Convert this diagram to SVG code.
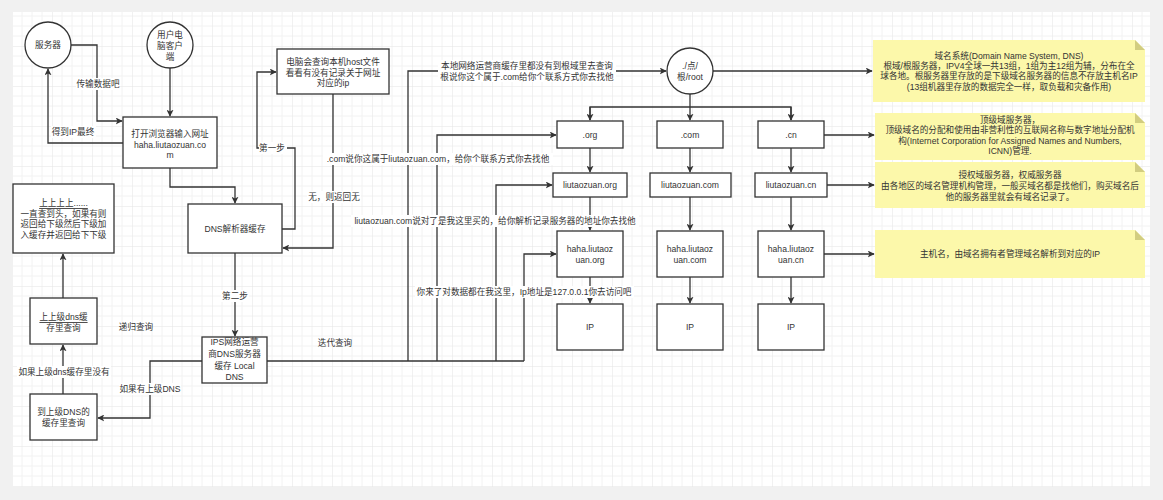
<svg xmlns="http://www.w3.org/2000/svg" width="1163" height="500" viewBox="0 0 1163 500">
<style>
.t{font-family:"Liberation Sans","Noto Sans CJK SC",sans-serif;font-size:8.6px;fill:#333;text-anchor:middle;dominant-baseline:central}
.b{fill:#fff;stroke:#333;stroke-width:1.3}
.c{fill:none;stroke:#333;stroke-width:1.3}
.n{fill:#fcf8aa;stroke:none}
.f{fill:#d2cd80}
.lb{fill:#fff}
.u{text-decoration:underline}
</style>
<defs>
<pattern id="g" x="12" y="6" width="40" height="40" patternUnits="userSpaceOnUse">
<path d="M10 0V40M20 0V40M30 0V40M0 10H40M0 20H40M0 30H40" stroke="#f2f2f2" stroke-width="1" fill="none"/>
<path d="M0 0V40M0 0H40" stroke="#e4e4e4" stroke-width="1" fill="none"/>
</pattern>
<marker id="a" viewBox="0 0 10 10" refX="9" refY="5" markerWidth="7" markerHeight="7" orient="auto" markerUnits="userSpaceOnUse">
<path d="M0 0L10 5L0 10L2.5 5Z" fill="#333"/>
</marker>
</defs>
<rect x="0" y="0" width="1163" height="500" fill="#f1f1f1"/>
<rect x="13" y="12" width="1137" height="475" fill="#fff"/>
<rect x="13" y="12" width="1137" height="475" fill="url(#g)"/>

<g id="connectors">
<path class="c" d="M71 45H97V121H122" marker-end="url(#a)"/>
<path class="c" d="M123 143H48V69" marker-end="url(#a)"/>
<path class="c" d="M170 68V116" marker-end="url(#a)"/>
<path class="c" d="M170 168V187H235V203" marker-end="url(#a)"/>
<path class="c" d="M282 229H295V148H257V72H276" marker-end="url(#a)"/>
<path class="c" d="M333 94V248H283" marker-end="url(#a)"/>
<path class="c" d="M235 253V336" marker-end="url(#a)"/>
<path class="c" d="M202 361H150V418H98" marker-end="url(#a)"/>
<path class="c" d="M63 394V345" marker-end="url(#a)"/>
<path class="c" d="M63 298V254" marker-end="url(#a)"/>
<path class="c" d="M267 361H524"/>
<path class="c" d="M408 361V71H666" marker-end="url(#a)"/>
<path class="c" d="M437 361V135H556" marker-end="url(#a)"/>
<path class="c" d="M496 361V185H552" marker-end="url(#a)"/>
<path class="c" d="M524 361V254H556" marker-end="url(#a)"/>
<path class="c" d="M690 94V120" marker-end="url(#a)"/>
<path class="c" d="M590 120V107H791V120" />
<path class="c" d="M590 107V120" marker-end="url(#a)"/>
<path class="c" d="M791 107V120" marker-end="url(#a)"/>
<path class="c" d="M713 71H872" marker-end="url(#a)"/>
<path class="c" d="M824 135H874" marker-end="url(#a)"/>
<path class="c" d="M827 185H874" marker-end="url(#a)"/>
<path class="c" d="M824 254H874" marker-end="url(#a)"/>
<path class="c" d="M590 148V172" marker-end="url(#a)"/>
<path class="c" d="M590 197V230" marker-end="url(#a)"/>
<path class="c" d="M590 277V303" marker-end="url(#a)"/>
<path class="c" d="M690 148V172" marker-end="url(#a)"/>
<path class="c" d="M690 197V230" marker-end="url(#a)"/>
<path class="c" d="M690 277V303" marker-end="url(#a)"/>
<path class="c" d="M791 148V172" marker-end="url(#a)"/>
<path class="c" d="M791 197V230" marker-end="url(#a)"/>
<path class="c" d="M791 277V303" marker-end="url(#a)"/>
<g id="labels">
<rect class="lb" x="76" y="78" width="44" height="12"/><text class="t" x="98" y="84">传输数据吧</text>
<rect class="lb" x="51" y="126" width="45" height="12"/><text class="t" x="73" y="132">得到IP最终</text>
<rect class="lb" x="259" y="142" width="28" height="12"/><text class="t" x="272" y="148">第一步</text>
<rect class="lb" x="307" y="191" width="54" height="12"/><text class="t" x="334" y="197">无，则返回无</text>
<rect class="lb" x="221" y="290" width="28" height="12"/><text class="t" x="235" y="296">第二步</text>
<text class="t" x="136" y="327">递归查询</text>
<rect class="lb" x="119" y="383" width="62" height="12"/><text class="t" x="150" y="389">如果有上级DNS</text>
<rect class="lb" x="17" y="366" width="94" height="12"/><text class="t" x="64" y="372">如果上级dns缓存里没有</text>
<text class="t" x="335" y="343">迭代查询</text>
<rect class="lb" x="438" y="60" width="178" height="22"/>
<text class="t" x="527" y="66">本地网络运营商缓存里都没有到根域里去查询</text>
<text class="t" x="527" y="76.5">根说你这个属于.com给你个联系方式你去找他</text>
<rect class="lb" x="323" y="153" width="230" height="12"/><text class="t" x="438" y="159">.com说你这属于liutaozuan.com，给你个联系方式你去找他</text>
<rect class="lb" x="351" y="215" width="288" height="12"/><text class="t" x="495" y="221">liutaozuan.com说对了是我这里买的，给你解析记录服务器的地址你去找他</text>
<rect class="lb" x="415" y="286" width="219" height="12"/><text class="t" x="524" y="292">你来了对数据都在我这里，Ip地址是127.0.0.1你去访问吧</text>
</g>
</g>

<g id="server"><circle class="b" cx="48" cy="45" r="23"/><text class="t" x="48" y="45">服务器</text></g>
<g id="client"><circle class="b" cx="170" cy="45" r="23"/><text class="t" x="170" y="35">用户电</text><text class="t" x="170" y="45.5">脑客户</text><text class="t" x="170" y="57">端</text></g>
<g id="browser"><rect class="b" x="123" y="117" width="94" height="51"/><text class="t" x="170" y="134">打开浏览器输入网址</text><text class="t" x="170" y="144.5">haha.liutaozuan.co</text><text class="t" x="170" y="155">m</text></g>
<g id="host"><rect class="b" x="277" y="49" width="112" height="45"/><text class="t" x="333" y="62">电脑会查询本机host文件</text><text class="t" x="333" y="72.5">看看有没有记录关于网址</text><text class="t" x="333" y="83">对应的ip</text></g>
<g id="dnscache"><rect class="b" x="188" y="204" width="94" height="49"/><text class="t" x="235" y="229">DNS解析器缓存</text></g>
<g id="ips"><rect class="b" x="202" y="337" width="65" height="46"/><text class="t" x="234.5" y="342">IPS网络运营</text><text class="t" x="234.5" y="354">商DNS服务器</text><text class="t" x="234.5" y="366">缓存 Local</text><text class="t" x="234.5" y="377">DNS</text></g>
<g id="upper"><rect class="b" x="30" y="394" width="67" height="46"/><text class="t" x="63.5" y="412">到上级DNS的</text><text class="t" x="63.5" y="423">缓存里查询</text></g>
<g id="upper2"><rect class="b" x="30" y="298" width="67" height="46"/><text class="t u" x="63.5" y="317">上上级dns缓</text><text class="t" x="63.5" y="327.5">存里查询</text></g>
<g id="top"><rect class="b" x="13" y="184" width="101" height="69"/><text class="t u" x="63.5" y="203">上上上上......</text><text class="t" x="63.5" y="214">一直查到头，如果有则</text><text class="t" x="63.5" y="224">返回给下级然后下级加</text><text class="t" x="63.5" y="234.5">入缓存并返回给下下级</text></g>
<g id="root"><circle class="b" cx="690" cy="71" r="23"/><text class="t" x="690" y="66">./点/</text><text class="t" x="690" y="77">根/root</text></g>

<g id="org"><rect class="b" x="557" y="121" width="66" height="27"/><text class="t" x="590" y="134.5">.org</text></g>
<g id="com"><rect class="b" x="657" y="121" width="66" height="27"/><text class="t" x="690" y="134.5">.com</text></g>
<g id="cn"><rect class="b" x="758" y="121" width="66" height="27"/><text class="t" x="791" y="134.5">.cn</text></g>
<g id="lorg"><rect class="b" x="553" y="173" width="74" height="24"/><text class="t" x="590" y="185">liutaozuan.org</text></g>
<g id="lcom"><rect class="b" x="650" y="173" width="81" height="24"/><text class="t" x="690" y="185">liutaozuan.com</text></g>
<g id="lcn"><rect class="b" x="755" y="173" width="72" height="24"/><text class="t" x="791" y="185">liutaozuan.cn</text></g>
<g id="horg"><rect class="b" x="557" y="231" width="66" height="46"/><text class="t" x="590" y="249">haha.liutaoz</text><text class="t" x="590" y="260">uan.org</text></g>
<g id="hcom"><rect class="b" x="657" y="231" width="66" height="46"/><text class="t" x="690" y="249">haha.liutaoz</text><text class="t" x="690" y="260">uan.com</text></g>
<g id="hcn"><rect class="b" x="758" y="231" width="66" height="46"/><text class="t" x="791" y="249">haha.liutaoz</text><text class="t" x="791" y="260">uan.cn</text></g>
<g id="iporg"><rect class="b" x="557" y="304" width="66" height="46"/><text class="t" x="590" y="327">IP</text></g>
<g id="ipcom"><rect class="b" x="657" y="304" width="66" height="46"/><text class="t" x="690" y="327">IP</text></g>
<g id="ipcn"><rect class="b" x="758" y="304" width="66" height="46"/><text class="t" x="791" y="327">IP</text></g>

<g id="note1"><path class="n" d="M873 40H1135L1145 50V102H873Z"/><path class="f" d="M1135 40L1145 50H1135Z"/>
<text class="t" x="1009" y="55.5">域名系统(Domain Name System, DNS)</text>
<text class="t" x="1009" y="65.5">根域/根服务器，IPV4全球一共13组，1组为主12组为辅，分布在全</text>
<text class="t" x="1009" y="76">球各地。根服务器里存放的是下级域名服务器的信息不存放主机名IP</text>
<text class="t" x="1009" y="87">(13组机器里存放的数据完全一样，取负载和灾备作用)</text></g>
<g id="note2"><path class="n" d="M875 113H1135L1145 123V160H875Z"/><path class="f" d="M1135 113L1145 123H1135Z"/>
<text class="t" x="1010" y="120">顶级域服务器，</text>
<text class="t" x="1010" y="130">顶级域名的分配和使用由非营利性的互联网名称与数字地址分配机</text>
<text class="t" x="1010" y="141">构(Internet Corporation for Assigned Names and Numbers,</text>
<text class="t" x="1010" y="151">ICNN)管理.</text></g>
<g id="note3"><path class="n" d="M875 162H1135L1145 172V208H875Z"/><path class="f" d="M1135 162L1145 172H1135Z"/>
<text class="t" x="1010" y="175">授权域服务器，权威服务器</text>
<text class="t" x="1010" y="186">由各地区的域名管理机构管理，一般买域名都是找他们，购买域名后</text>
<text class="t" x="1010" y="196.5">他的服务器里就会有域名记录了。</text></g>
<g id="note4"><path class="n" d="M875 230H1135L1145 240V278H875Z"/><path class="f" d="M1135 230L1145 240H1135Z"/>
<text class="t" x="1010" y="254">主机名，由域名拥有者管理域名解析到对应的IP</text></g>
</svg>
